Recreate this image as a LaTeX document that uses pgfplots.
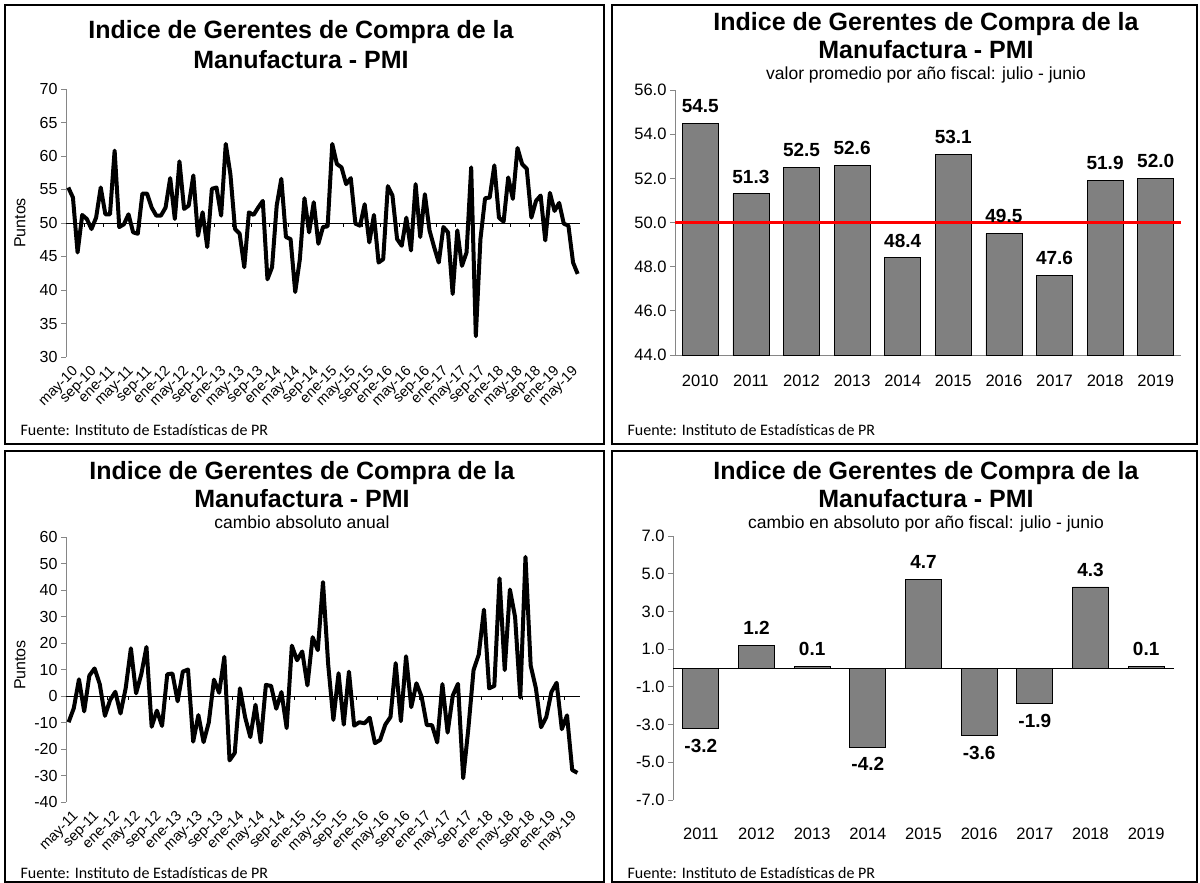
\documentclass[border=0pt]{standalone}
\usepackage{pgfplots}
\pgfplotsset{compat=1.18}
\usepackage{fontspec}
\setmainfont{Liberation Sans}
\newfontfamily\fuente{Carlito}
\newcommand\fs[1]{\fontsize{#1}{#1}\selectfont}
\definecolor{axgray}{HTML}{868686}
\definecolor{bargray}{HTML}{808080}
\pgfplotsset{
  myline/.style={
    scale only axis, axis y line*=left, axis x line*=bottom,
    x axis line style={draw=none}, y axis line style={axgray, line width=1pt},
    major x tick style={draw=none}, major y tick style={axgray, line width=1pt},
    tick align=outside, major tick length=5pt,
    tick label style={font=\fs{16}},
    x tick label style={rotate=45, anchor=north east, font=\fs{14.5}, inner sep=0pt, yshift=-4pt},
    clip=false,
  },
  mybar/.style={
    scale only axis, axis y line*=left, axis x line*=bottom,
    y axis line style={axgray, line width=1pt}, x axis line style={axgray, line width=1pt},
    major x tick style={draw=none}, major y tick style={axgray, line width=1pt},
    tick align=outside, major tick length=5pt,
    tick label style={font=\fs{16.5}},
    x tick label style={yshift=-11pt},
    ybar, bar width=36pt,
    nodes near coords, point meta=explicit symbolic,
    every node near coord/.append style={font=\bfseries\fs{19}, inner ysep=10pt, inner xsep=0pt},
  },
}
\begin{document}
\begin{tikzpicture}
\useasboundingbox (0,0) rectangle (1200pt,-883pt);
% frames
\draw[line width=1.4pt] (5pt,-5pt) rectangle (604pt,-444pt);
\draw[line width=1.4pt] (612pt,-5pt) rectangle (1197pt,-444pt);
\draw[line width=1.4pt] (5pt,-451pt) rectangle (604pt,-882pt);
\draw[line width=1.4pt] (612pt,-451pt) rectangle (1197pt,-882pt);

% ---------- top-left ----------
\node[anchor=base, font=\bfseries\fs{25}] at (301pt,-39pt) {Indice de Gerentes de Compra de la};
\node[anchor=base, font=\bfseries\fs{25}] at (301pt,-69pt) {Manufactura - PMI};
\node[rotate=90, font=\fs{16}] at (20pt,-223pt) {Puntos};
\node[anchor=base west, font=\fuente\fs{16}] at (17pt,-435pt) {Fuente: Instituto de Estadísticas de PR};
\begin{axis}[myline, at={(66pt,-357pt)}, anchor=south west, width=514pt, height=268pt,
  xmin=-0.5, xmax=110.5, ymin=30, ymax=70,
  ytick={30,35,...,70}, yticklabels={30,35,40,45,50,55,60,65,70},
  xtick={0,4,...,108},
  xticklabels={may-10,sep-10,ene-11,may-11,sep-11,ene-12,may-12,sep-12,ene-13,may-13,sep-13,ene-14,may-14,sep-14,ene-15,may-15,sep-15,ene-16,may-16,sep-16,ene-17,may-17,sep-17,ene-18,may-18,sep-18,ene-19,may-19}]
\draw[black, line width=1pt] (axis cs:-0.5,50) -- (axis cs:110.5,50);
\pgfplotsinvokeforeach{3.5,7.5,...,107.5}{\draw[black, line width=0.8pt] (axis cs:#1,50) -- ([yshift=-4pt]axis cs:#1,50);}
\addplot[black, line width=4pt, line join=round] coordinates {
(0,55.3)(1,53.8)(2,45.6)(3,51.2)(4,50.6)(5,49.1)(6,50.8)(7,55.3)(8,51.3)(9,51.3)(10,60.8)(11,49.4)(12,49.8)(13,51.3)(14,48.6)(15,48.4)(16,54.4)(17,54.4)(18,52.3)(19,51.1)(20,51.1)(21,52.3)(22,56.7)(23,50.6)(24,59.2)(25,52.1)(26,52.6)(27,57.1)(28,48.1)(29,51.6)(30,46.4)(31,55.1)(32,55.3)(33,51.1)(34,61.8)(35,57.3)(36,49.1)(37,48.4)(38,43.4)(39,51.6)(40,51.2)(41,52.3)(42,53.3)(43,41.6)(44,43.4)(45,52.6)(46,56.6)(47,47.9)(48,47.6)(49,39.7)(50,44.6)(51,53.7)(52,48.6)(53,53.1)(54,46.9)(55,49.4)(56,49.5)(57,61.8)(58,58.8)(59,58.3)(60,55.8)(61,56.7)(62,49.9)(63,49.6)(64,52.8)(65,47.1)(66,51.2)(67,44.1)(68,44.6)(69,55.5)(70,54.1)(71,47.6)(72,46.6)(73,50.8)(74,45.9)(75,55.8)(76,47.9)(77,54.3)(78,48.9)(79,46.4)(80,44.1)(81,49.4)(82,48.6)(83,39.4)(84,48.9)(85,43.6)(86,45.6)(87,58.3)(88,33.1)(89,47.6)(90,53.7)(91,53.8)(92,58.6)(93,50.8)(94,50.2)(95,56.8)(96,53.6)(97,61.2)(98,58.8)(99,58.1)(100,50.8)(101,53.3)(102,54.1)(103,47.4)(104,54.5)(105,51.8)(106,53.0)(107,49.9)(108,49.6)(109,44.1)(110,42.4)};
\end{axis}

% ---------- top-right ----------
\node[anchor=base, font=\bfseries\fs{25}] at (926pt,-31pt) {Indice de Gerentes de Compra de la};
\node[anchor=base, font=\bfseries\fs{25}] at (926pt,-59pt) {Manufactura - PMI};
\node[anchor=base, font=\fs{17.5}] at (926pt,-80pt) {valor promedio por año fiscal: julio - junio};
\node[anchor=base west, font=\fuente\fs{16}] at (624pt,-435pt) {Fuente: Instituto de Estadísticas de PR};
\begin{axis}[mybar, at={(675pt,-355pt)}, anchor=south west, width=506pt, height=265pt,
  xmin=-0.5, xmax=9.5, ymin=44, ymax=56,
  ytick={44,46,...,56}, yticklabels={44.0,46.0,48.0,50.0,52.0,54.0,56.0},
  xtick={0,...,9}, xticklabels={2010,2011,2012,2013,2014,2015,2016,2017,2018,2019}]
\addplot[fill=bargray, draw=black, line width=0.8pt] coordinates {
(0,54.5)[54.5] (1,51.3)[51.3] (2,52.5)[52.5] (3,52.6)[52.6] (4,48.4)[48.4] (5,53.1)[53.1] (6,49.5)[49.5] (7,47.6)[47.6] (8,51.9)[51.9] (9,52.0)[52.0]};
\draw[red, line width=3pt] (axis cs:-0.5,50) -- (axis cs:9.5,50);
\end{axis}

% ---------- bottom-left ----------
\node[anchor=base, font=\bfseries\fs{25}] at (302pt,-479pt) {Indice de Gerentes de Compra de la};
\node[anchor=base, font=\bfseries\fs{25}] at (302pt,-507pt) {Manufactura - PMI};
\node[anchor=base, font=\fs{17.5}] at (302pt,-528pt) {cambio absoluto anual};
\node[rotate=90, font=\fs{16}] at (20pt,-665pt) {Puntos};
\node[anchor=base west, font=\fuente\fs{16}] at (17pt,-878pt) {Fuente: Instituto de Estadísticas de PR};
\begin{axis}[myline, at={(66pt,-802pt)}, anchor=south west, width=514pt, height=265pt,
  xmin=-0.5, xmax=98.5, ymin=-40, ymax=60,
  ytick={-40,-30,...,60}, yticklabels={-40,-30,-20,-10,0,10,20,30,40,50,60},
  xtick={0,4,...,96},
  xticklabels={may-11,sep-11,ene-12,may-12,sep-12,ene-13,may-13,sep-13,ene-14,may-14,sep-14,ene-15,may-15,sep-15,ene-16,may-16,sep-16,ene-17,may-17,sep-17,ene-18,may-18,sep-18,ene-19,may-19}]
\draw[black, line width=1pt] (axis cs:-0.5,0) -- (axis cs:98.5,0);
\pgfplotsinvokeforeach{3.5,7.5,...,95.5}{\draw[black, line width=0.8pt] (axis cs:#1,0) -- ([yshift=-4pt]axis cs:#1,0);}
\addplot[black, line width=4pt, line join=round] coordinates {
(0,-9.9)(1,-4.6)(2,6.3)(3,-5.8)(4,7.7)(5,10.4)(6,4.5)(7,-7.5)(8,-1.5)(9,1.6)(10,-6.6)(11,3.0)(12,18.0)(13,1.0)(14,8.2)(15,18.5)(16,-11.6)(17,-5.5)(18,-11.3)(19,8.2)(20,8.5)(21,-2.0)(22,9.2)(23,10.0)(24,-17.2)(25,-7.2)(26,-17.4)(27,-10.0)(28,6.2)(29,1.2)(30,14.8)(31,-24.3)(32,-21.5)(33,2.9)(34,-8.0)(35,-15.5)(36,-3.3)(37,-17.5)(38,4.2)(39,3.8)(40,-4.8)(41,1.5)(42,-12.1)(43,19.0)(44,13.5)(45,16.8)(46,4.0)(47,22.2)(48,17.3)(49,43.0)(50,11.9)(51,-9.0)(52,8.6)(53,-10.8)(54,9.2)(55,-11.2)(56,-9.9)(57,-10.3)(58,-8.2)(59,-17.8)(60,-16.6)(61,-10.8)(62,-7.9)(63,12.4)(64,-9.5)(65,15.0)(66,-4.2)(67,4.8)(68,-0.3)(69,-11.0)(70,-11.0)(71,-17.5)(72,4.5)(73,-13.8)(74,0.2)(75,4.6)(76,-31.0)(77,-12.2)(78,9.8)(79,15.6)(80,32.6)(81,2.9)(82,3.8)(83,44.4)(84,9.8)(85,40.2)(86,29.8)(87,-0.6)(88,52.5)(89,11.5)(90,3.0)(91,-11.8)(92,-8.0)(93,1.5)(94,5.0)(95,-12.5)(96,-7.3)(97,-27.9)(98,-29.0)};
\end{axis}

% ---------- bottom-right ----------
\node[anchor=base, font=\bfseries\fs{25}] at (926pt,-479pt) {Indice de Gerentes de Compra de la};
\node[anchor=base, font=\bfseries\fs{25}] at (926pt,-507pt) {Manufactura - PMI};
\node[anchor=base, font=\fs{17.5}] at (926pt,-528pt) {cambio en absoluto por año fiscal: julio - junio};
\node[anchor=base west, font=\fuente\fs{16}] at (624pt,-878pt) {Fuente: Instituto de Estadísticas de PR};
\begin{axis}[mybar, at={(673pt,-800pt)}, anchor=south west, width=501pt, height=264pt,
  x axis line style={draw=none}, bar shift=0pt,
  x tick label style={yshift=-8pt},
  xmin=-0.5, xmax=8.5, ymin=-7, ymax=7,
  ytick={-7,-5,...,7}, yticklabels={-7.0,-5.0,-3.0,-1.0,1.0,3.0,5.0,7.0},
  xtick={0,...,8}, xticklabels={2011,2012,2013,2014,2015,2016,2017,2018,2019}]
\addplot[fill=bargray, draw=black, line width=0.8pt] coordinates {
(1,1.2)[1.2] (2,0.1)[0.1] (4,4.7)[4.7] (7,4.3)[4.3] (8,0.1)[0.1]};
\addplot[fill=bargray, draw=black, line width=0.8pt, nodes near coords align={anchor=north}] coordinates {
(0,-3.2)[-3.2] (3,-4.2)[-4.2] (5,-3.6)[-3.6] (6,-1.9)[-1.9]};
\draw[black, line width=1pt] (axis cs:-0.5,0) -- (axis cs:8.5,0);
\end{axis}
\end{tikzpicture}
\end{document}
